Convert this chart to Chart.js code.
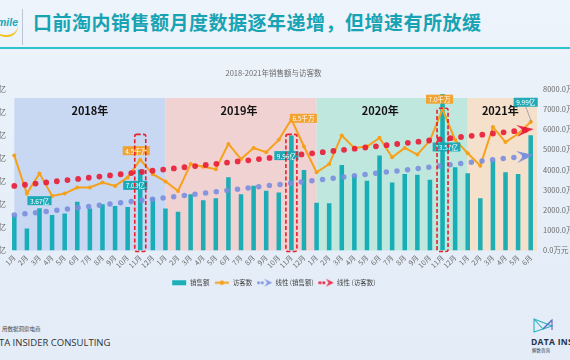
<!DOCTYPE html>
<html><head><meta charset="utf-8">
<script src="https://cdn.jsdelivr.net/npm/chart.js@4.4.1/dist/chart.umd.min.js"></script>
<style>
html,body{margin:0;padding:0;width:570px;height:360px;overflow:hidden;}
body{position:relative;background:linear-gradient(180deg,#eef4fb 0%,#e8f0f9 35%,#e3ecf7 100%);font-family:"Noto Sans CJK SC","Noto Sans",sans-serif;}
#title{position:absolute;left:33px;top:8px;font-size:19px;font-weight:700;color:#17a3b3;white-space:nowrap;line-height:28px;letter-spacing:0.5px;}
#rule{position:absolute;left:0;top:47px;width:570px;height:2px;background:#2cc3cf;}
#logo{position:absolute;left:-10px;top:16px;font:italic 700 10.5px "Liberation Sans",Arial,sans-serif;color:#1ba7b8;}
#swoosh{position:absolute;left:-6px;top:26px;width:24px;height:9px;border-bottom:2px solid #f2c21b;border-radius:0 0 14px 14px;}
#divider{position:absolute;left:22px;top:9px;width:1px;height:36px;background:#b9c7d4;}
#wrap{position:absolute;left:-40px;top:60px;width:627px;height:236px;}
#f1{position:absolute;left:2px;top:325px;font-size:5.5px;color:#444;white-space:nowrap;}
#f2{position:absolute;left:-14px;top:336px;font:9.5px "Open Sans","Noto Sans",sans-serif;color:#333;white-space:nowrap;}
#f3{position:absolute;left:531px;top:336px;font:700 8.5px "Open Sans","Noto Sans",sans-serif;color:#23324a;white-space:nowrap;letter-spacing:0.3px;}
#f4{position:absolute;left:532px;top:347px;font-size:4.5px;color:#445;white-space:nowrap;}
#ic{position:absolute;left:532px;top:317px;}
</style></head>
<body>
<div id="logo">Smile</div><div id="swoosh"></div><div id="divider"></div>
<div id="title">口前淘内销售额月度数据逐年递增，但增速有所放缓</div>
<div id="rule"></div>
<div id="wrap"><canvas id="c"></canvas></div>
<div id="f1">用数据洞察电商</div>
<div id="f2">DATA INSIDER CONSULTING</div>
<svg id="ic" width="22" height="17" viewBox="0 0 22 17"><path d="M2 2 L20 9 L2 15 Z M2 2 L11 12 L20 3" fill="none" stroke="#2bb3c0" stroke-width="1.1"/><path d="M11 12 L20 3 L20 13" fill="none" stroke="#6c5fc7" stroke-width="1.1"/></svg>
<div id="f3">DATA INSIDER</div>
<div id="f4">解数咨询</div>
<script>
// ---------- data ----------
const months = ['1月','2月','3月','4月','5月','6月','7月','8月','9月','10月','11月','12月'];
const categories = [].concat(months, months, months, months.slice(0, 6));
const yearLabels = ['2018年', '2019年', '2020年', '2021年'];
const yearStartIndex = [0, 12, 24, 36];
// 销售额 (亿)
const sales2018 = [2.98, 1.90, 3.67, 3.07, 3.21, 4.23, 3.65, 4.00, 3.86, 3.77, 7.03, 4.58];
const sales2019 = [3.65, 3.36, 4.88, 4.36, 4.53, 6.34, 4.88, 5.61, 5.17, 5.02, 9.96, 6.98];
const sales2020 = [4.15, 4.10, 7.42, 6.49, 6.05, 8.24, 5.90, 6.63, 6.57, 6.13, 13.57, 7.21];
const sales2021 = [6.69, 4.53, 7.80, 6.78, 6.63, 9.99];
// 访客数 (万)
const visitors2018 = [4700, 2820, 3820, 2700, 2820, 3120, 3120, 3370, 3200, 3620, 4500, 3780];
const visitors2019 = [3420, 2950, 4280, 4150, 4030, 5280, 4530, 5080, 4870, 5480, 6500, 5150];
const visitors2020 = [3870, 4280, 5700, 5080, 5150, 5580, 4620, 5080, 4750, 5450, 7000, 5480];
const visitors2021 = [4820, 4200, 6120, 5370, 5780, 6370];
// 线性趋势线 端点
const salesTrendEnds = [3.07, 8.24];
const visitorTrendEnds = [3200, 6000];
// axis ticks
const leftTicks = [0, 2, 4, 6, 8, 10, 12, 14];
const rightTicks = [0, 1000, 2000, 3000, 4000, 5000, 6000, 7000, 8000];
// annotated points
const salesLabelIdx = [2, 10, 22, 34, 41];
const visitorLabelIdx = [10, 22, 34];
const highlightIdx = [10, 22, 34];

const salesValues = [].concat(sales2018, sales2019, sales2020, sales2021);
const visitorValues = [].concat(visitors2018, visitors2019, visitors2020, visitors2021);
const last = categories.length - 1;
const endsToSeries = ends => categories.map((_, i) => i === 0 ? ends[0] : (i === last ? ends[1] : null));

// ---------- styles ----------
const FONT = '"Noto Sans CJK SC","Noto Sans",sans-serif';
const C_BAR = 'rgba(0,166,176,0.88)';
const C_ORANGE = '#f5a11c';
const C_BLUE = 'rgba(122,142,222,0.9)';
const C_RED = 'rgba(232,30,56,0.92)';
const BAND_COLORS = ['#c8d8f2', '#f1d2d2', '#c0e7de', '#f4e0cb'];
const BAND_LABEL_SHIFT = [0, -2, -12, -2];

function arrowPath(ctx, tipX, tipY, ang, len, half) {
  ctx.save(); ctx.translate(tipX, tipY); ctx.rotate(ang);
  ctx.beginPath(); ctx.moveTo(0, 0); ctx.lineTo(-len, -half); ctx.lineTo(-len * 0.62, 0); ctx.lineTo(-len, half); ctx.closePath();
  ctx.fill(); ctx.restore();
}
function icon(kind) {
  const cv = document.createElement('canvas'); cv.width = 16; cv.height = 9;
  const c = cv.getContext('2d');
  if (kind === 'bar') { c.fillStyle = C_BAR; c.fillRect(1, 2, 14, 5); }
  else if (kind === 'line') { c.strokeStyle = C_ORANGE; c.lineWidth = 2; c.beginPath(); c.moveTo(1, 4.5); c.lineTo(15, 4.5); c.stroke(); c.fillStyle = C_ORANGE; c.beginPath(); c.arc(8, 4.5, 2.2, 0, 7); c.fill(); }
  else {
    const col = kind === 'blue' ? C_BLUE : C_RED;
    c.fillStyle = col;
    [1.8, 5.6].forEach(x => { c.beginPath(); c.arc(x, 4.5, 1.6, 0, 7); c.fill(); });
    arrowPath(c, 15.5, 4.5, 0, 8, 4);
  }
  return cv;
}

const bandsPlugin = {
  id: 'bands',
  beforeDatasetsDraw(chart) {
    const { ctx, chartArea } = chart; const xs = chart.scales.x;
    const top = chartArea.top + 9;
    yearStartIndex.forEach((s, k) => {
      const x0 = xs.getPixelForValue(s);
      const x1 = k < yearStartIndex.length - 1 ? xs.getPixelForValue(yearStartIndex[k + 1]) : chartArea.right;
      ctx.fillStyle = BAND_COLORS[k];
      ctx.fillRect(x0, top, x1 - x0, chartArea.bottom - top);
      ctx.fillStyle = '#141414'; ctx.font = '700 11px ' + FONT;
      ctx.textAlign = 'center'; ctx.textBaseline = 'middle';
      ctx.fillText(yearLabels[k], (x0 + x1) / 2 + BAND_LABEL_SHIFT[k], top + 13);
    });
  }
};

const labelOffsets = {
  sales: { 2: [0, -7.5], 10: [-5, 16], 22: [-5, 20], 34: [4, 53], 41: [-5, -33] },
  visitors: { 10: [-4, -9], 22: [12, -1], 34: [-3, -10] }
};
function drawTag(ctx, text, cx, cy, fill) {
  ctx.font = '6.5px ' + FONT;
  const w = ctx.measureText(text).width + 5, h = 9;
  ctx.fillStyle = fill; ctx.fillRect(cx - w / 2, cy - h / 2, w, h);
  ctx.fillStyle = '#ffffff'; ctx.textAlign = 'center'; ctx.textBaseline = 'middle';
  ctx.fillText(text, cx, cy + 0.5);
}
const tagsPlugin = {
  id: 'tags',
  afterDatasetsDraw(chart) {
    const ctx = chart.ctx;
    const barMeta = chart.getDatasetMeta(0), lineMeta = chart.getDatasetMeta(1);
    salesLabelIdx.forEach(i => {
      const el = barMeta.data[i]; const [dx, dy] = labelOffsets.sales[i];
      const cx = el.x + dx, cy = el.y + dy;
      if (i === last) {
        ctx.strokeStyle = '#8a8a8a'; ctx.lineWidth = 0.7;
        ctx.beginPath(); ctx.moveTo(cx, cy + 4.5); ctx.lineTo(el.x + 1, el.y - 13); ctx.stroke();
      }
      drawTag(ctx, salesValues[i].toFixed(2) + '亿', cx, cy, 'rgba(20,168,180,0.95)');
    });
    visitorLabelIdx.forEach(i => {
      const el = lineMeta.data[i]; const [dx, dy] = labelOffsets.visitors[i];
      drawTag(ctx, (visitorValues[i] / 1000).toFixed(1) + '千万', el.x + dx, el.y + dy, 'rgba(242,160,40,0.95)');
    });
    // trend arrows
    [[2, C_BLUE], [3, C_RED]].forEach(([d, col]) => {
      const m = chart.getDatasetMeta(d); const a = m.data[0], b = m.data[last];
      const ang = Math.atan2(b.y - a.y, b.x - a.x);
      ctx.fillStyle = col;
      arrowPath(ctx, b.x + 3 * Math.cos(ang), b.y + 3 * Math.sin(ang), ang, 17, 6);
    });
    // highlight dashed boxes
    const yR = chart.scales.yR, xs = chart.scales.x;
    const boxTops = { 10: 5750, 22: 5750, 34: 7050 };
    ctx.save(); ctx.strokeStyle = '#e8202a'; ctx.lineWidth = 1.6; ctx.setLineDash([4, 2.2]);
    highlightIdx.forEach(i => {
      const x = xs.getPixelForValue(i), t = yR.getPixelForValue(boxTops[i]);
      ctx.beginPath(); ctx.roundRect(x - 5.5, t, 11, chart.chartArea.bottom + 1 - t, 2); ctx.stroke();
    });
    ctx.restore();
  }
};

new Chart(document.getElementById('c'), {
  data: {
    labels: categories,
    datasets: [
      { type: 'bar', label: '销售额', data: salesValues, yAxisID: 'yL', backgroundColor: C_BAR, barPercentage: 0.36, categoryPercentage: 1, order: 4 },
      { type: 'line', label: '访客数', data: visitorValues, yAxisID: 'yR', borderColor: C_ORANGE, borderWidth: 2, pointRadius: 2, pointBackgroundColor: C_ORANGE, pointBorderWidth: 0, tension: 0, order: 3 },
      { type: 'line', label: '线性 (销售额)', data: endsToSeries(salesTrendEnds), yAxisID: 'yL', spanGaps: true, borderColor: C_BLUE, borderWidth: 5.5, borderDash: [0, 10.7], borderCapStyle: 'round', pointRadius: 0, order: 2 },
      { type: 'line', label: '线性 (访客数)', data: endsToSeries(visitorTrendEnds), yAxisID: 'yR', spanGaps: true, borderColor: C_RED, borderWidth: 5.8, borderDash: [0, 10.7], borderCapStyle: 'round', pointRadius: 0, order: 1 }
    ]
  },
  options: {
    responsive: true, maintainAspectRatio: false, animation: false,
    layout: { padding: 0 },
    scales: {
      x: { offset: true, grid: { display: false, drawTicks: false }, border: { display: false },
        ticks: { autoSkip: false, maxRotation: 45, minRotation: 45, padding: 3, color: '#6a6a6a', font: { size: 7, family: FONT } },
        afterFit: s => { s.height = 24; } },
      yL: { position: 'left', min: 0, max: 14, grid: { display: false, drawTicks: false }, border: { display: false },
        afterBuildTicks: s => { s.ticks = leftTicks.map(v => ({ value: v })); },
        ticks: { padding: 2, color: '#6a6a6a', font: { size: 7.5, family: FONT }, callback: v => v.toFixed(1) + '亿' },
        afterFit: s => { s.width = 48; } },
      yR: { position: 'right', min: 0, max: 8000, grid: { display: false, drawTicks: false }, border: { display: false },
        afterBuildTicks: s => { s.ticks = rightTicks.map(v => ({ value: v })); },
        ticks: { padding: 6, color: '#6a6a6a', font: { size: 7.5, family: FONT }, callback: v => v.toFixed(1) + '万元' },
        afterFit: s => { s.width = 50; } }
    },
    plugins: {
      title: { display: true, text: '2018-2021年销售额与访客数', color: '#6b6b6b', font: { size: 7.5, family: FONT, weight: 'normal' }, padding: { top: 8.5, bottom: 11.5 } },
      legend: { position: 'bottom',
        labels: { usePointStyle: true, pointStyleWidth: 15, boxHeight: 7, padding: 5, color: '#444', font: { size: 6.5, family: FONT },
          generateLabels: chart => chart.data.datasets.map((d, i) => ({
            text: d.label, datasetIndex: i, hidden: false, lineWidth: 0, strokeStyle: 'rgba(0,0,0,0)', fontColor: '#444',
            pointStyle: icon(['bar', 'line', 'blue', 'red'][i])
          })) } },
      tooltip: { enabled: false }
    }
  },
  plugins: [bandsPlugin, tagsPlugin]
});
</script>
</body></html>
